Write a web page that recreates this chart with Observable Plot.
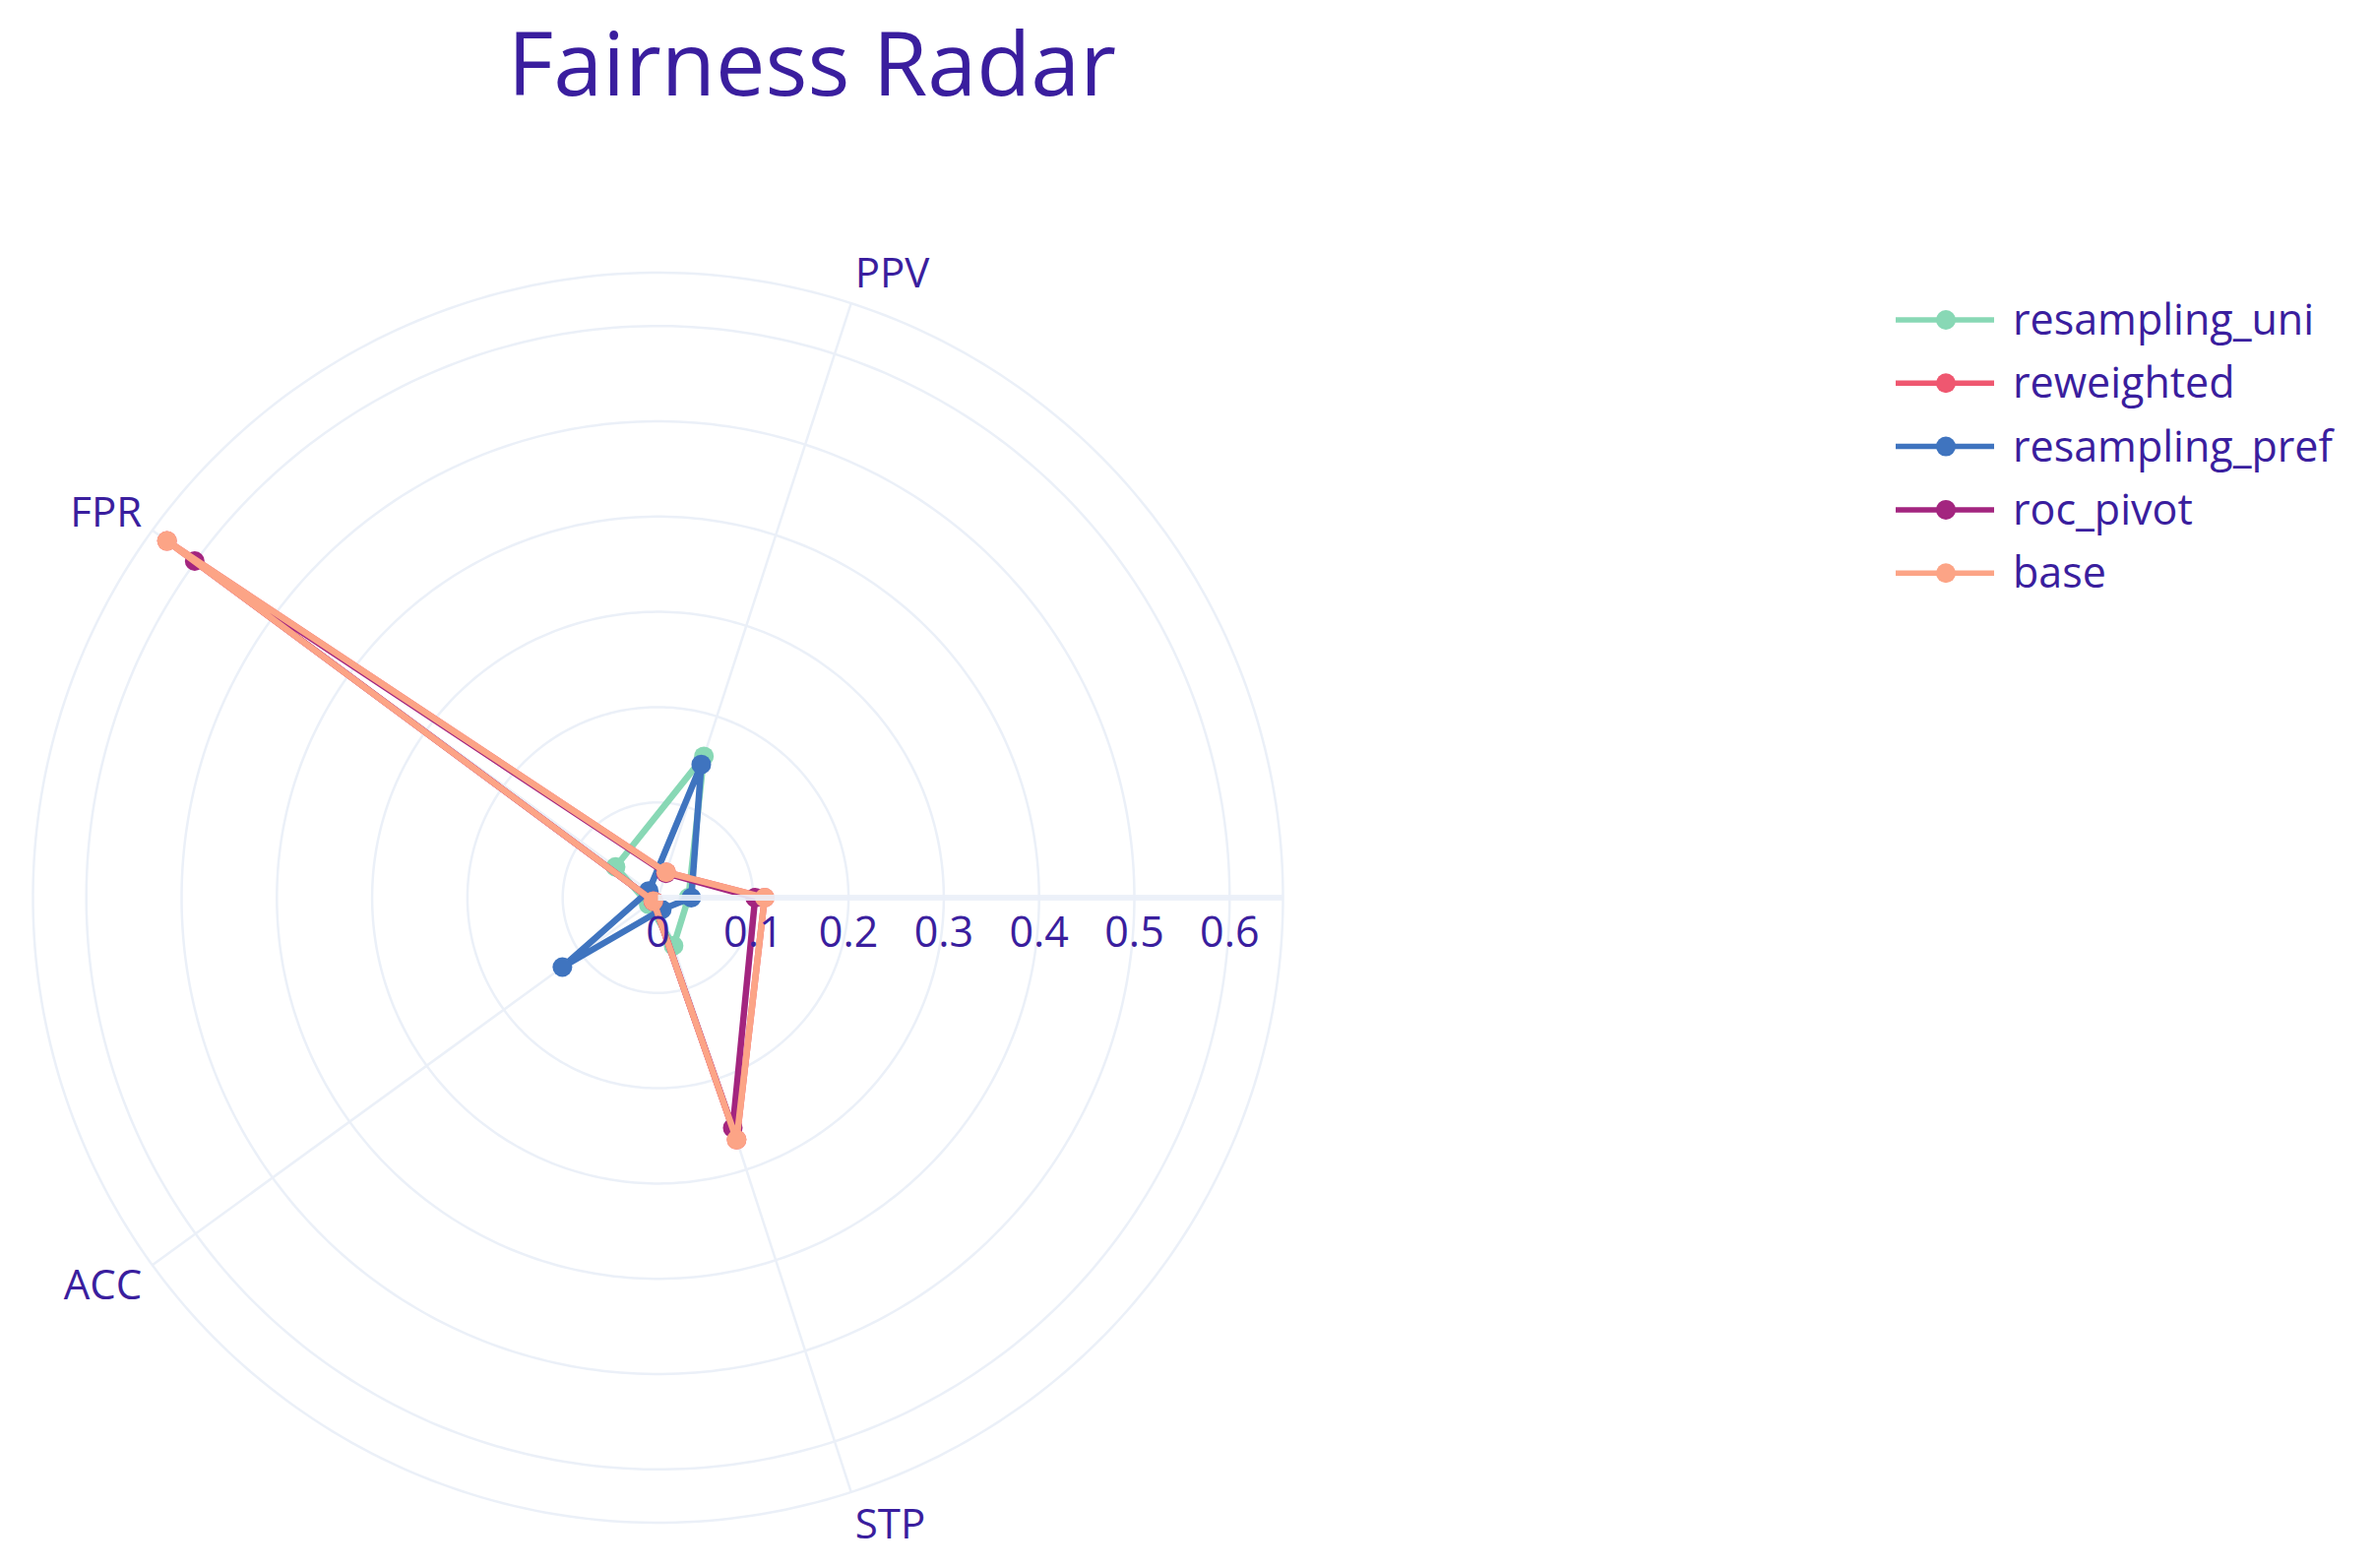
<!DOCTYPE html>
<html>
<head>
<meta charset="utf-8">
<script src="https://cdn.jsdelivr.net/npm/d3@7"></script>
<script src="https://cdn.jsdelivr.net/npm/@observablehq/plot@0.6"></script>
<style>
  html, body { margin: 0; padding: 0; background: #ffffff; }
  #wrap { position: relative; width: 2414px; height: 1593px; overflow: hidden; font-family: "Open Sans", sans-serif; }
  #title { position: absolute; left: 0; top: 0; }
  #chart { position: absolute; left: 0; top: 0; }
  #legend { position: absolute; left: 1900px; top: 290px; }
</style>
</head>
<body>
<div id="wrap">
  <div id="chart"></div>
  <div id="title"></div>
  <div id="legend"></div>
</div>
<script>
// ---- data ----
const chartTitle = "Fairness Radar";
const metrics = ["TPR", "PPV", "FPR", "ACC", "STP"];
const metricAngles = [0, 72, 144, 216, 288];
const seriesNames = ["resampling_uni", "reweighted", "resampling_pref", "roc_pivot", "base"];
const resamplingUni = [0.032, 0.156, 0.055, 0.012, 0.053];
const reweighted = [0.112, 0.028, 0.637, 0.006, 0.267];
const resamplingPref = [0.035, 0.147, 0.012, 0.124, 0.013];
const rocPivot = [0.102, 0.027, 0.601, 0.006, 0.254];
const base = [0.112, 0.028, 0.637, 0.006, 0.267];
const seriesColors = ["#88d8b5", "#ef5770", "#3f74bf", "#a3257f", "#fca486"];
const radialTicks = [0, 0.1, 0.2, 0.3, 0.4, 0.5, 0.6];
const radialMax = 0.656;

// ---- styling ----
const textColor = "#3a1e9e";
const gridColor = "#ebf0f8";

const seriesValues = [resamplingUni, reweighted, resamplingPref, rocPivot, base];
const lon = (a) => { let l = 90 + a; if (l > 180) l -= 360; return l; };

const rows = seriesNames.map((s, i) =>
  seriesValues[i].map((v, j) => ({series: s, metric: metrics[j], angle: metricAngles[j], value: v}))
);
const axes = metrics.map((m, j) => ({metric: m, angle: metricAngles[j]}));

const seriesMarks = rows.flatMap((data) => [
  Plot.line(data, {
    x: (d) => lon(d.angle), y: (d) => 90 - d.value,
    stroke: "series", strokeWidth: 6.5, curve: "linear-closed", strokeLinejoin: "round"
  }),
  Plot.dot(data, {
    x: (d) => lon(d.angle), y: (d) => 90 - d.value,
    fill: "series", r: 10, stroke: "none"
  })
]);

const labelMarks = axes.map((a) => {
  const t = a.angle * Math.PI / 180;
  const c = Math.cos(t), s = Math.sin(t);
  const anchor = c > 0.01 ? "start" : c < -0.01 ? "end" : "middle";
  return Plot.text([a], {
    x: (d) => lon(d.angle), y: 90 - radialMax, text: "metric",
    textAnchor: anchor, dx: 13 * c, dy: -13 * s - 20 * s + 2,
    fontSize: 42, fill: textColor
  });
});

const chart = Plot.plot({
  width: 2414, height: 1593,
  marginLeft: 33, marginRight: 1111, marginTop: 276.5, marginBottom: 46.5,
  projection: {
    type: "azimuthal-equidistant",
    rotate: [0, -90],
    domain: d3.geoCircle().center([0, 90]).radius(radialMax).precision(1)()
  },
  color: {domain: seriesNames, range: seriesColors},
  style: {fontFamily: "'Open Sans', sans-serif", background: "transparent", overflow: "visible"},
  marks: [
    Plot.geo(radialTicks.filter((t) => t > 0).concat([radialMax]), {
      geometry: (r) => d3.geoCircle().center([0, 90]).radius(r).precision(1)(),
      stroke: gridColor, strokeWidth: 2.5, fill: "none"
    }),
    Plot.link(axes, {
      x1: (d) => lon(d.angle), y1: 90 - radialMax, x2: (d) => lon(d.angle), y2: 90,
      stroke: gridColor, strokeWidth: 2.5
    }),
    ...seriesMarks,
    Plot.link(axes.slice(0, 1), {
      x1: (d) => lon(d.angle), y1: 90 - radialMax, x2: (d) => lon(d.angle), y2: 90,
      stroke: gridColor, strokeWidth: 6, strokeOpacity: 0.9
    }),
    Plot.text(radialTicks, {
      x: lon(metricAngles[0]), y: (d) => 90 - d, text: (d) => String(d),
      dy: 36, fontSize: 43, fill: textColor
    }),
    ...labelMarks
  ]
});
document.getElementById("chart").appendChild(chart);

// ---- title ----
d3.select("#title").append("svg").attr("width", 1650).attr("height", 130)
  .append("text").attr("x", 825).attr("y", 97).attr("text-anchor", "middle")
  .attr("font-family", "'Open Sans', sans-serif").attr("font-size", 90)
  .attr("fill", textColor).text(chartTitle);

// ---- legend ----
const lg = d3.select("#legend").append("svg").attr("width", 514).attr("height", 330)
  .style("font-family", "'Open Sans', sans-serif");
seriesNames.forEach((name, i) => {
  const y = 35 + i * 64.3;
  const g = lg.append("g");
  g.append("line").attr("x1", 26).attr("x2", 126).attr("y1", y).attr("y2", y)
    .attr("stroke", seriesColors[i]).attr("stroke-width", 5.5);
  g.append("circle").attr("cx", 77).attr("cy", y).attr("r", 10).attr("fill", seriesColors[i]);
  g.append("text").attr("x", 145).attr("y", y + 15).attr("font-size", 43)
    .attr("fill", textColor).text(name);
});
</script>
</body>
</html>
